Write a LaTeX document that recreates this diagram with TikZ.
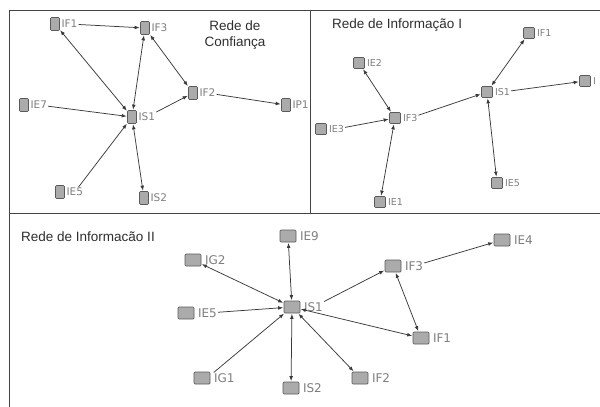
\documentclass[tikz,border=0pt]{standalone}
\usepackage{fontspec}
\setmainfont{Liberation Sans}
\newfontfamily\lblfont{DejaVu Sans}
\usetikzlibrary{arrows.meta}
\definecolor{frame}{HTML}{444444}
\definecolor{boxfill}{HTML}{ABABAB}
\definecolor{boxline}{HTML}{5A5A5A}
\definecolor{lblcol}{HTML}{7E7E7E}
\definecolor{edgecol}{HTML}{3A3A3A}
\definecolor{titlecol}{HTML}{2E2E2E}
\tikzset{
  nbox/.style={draw=boxline, fill=boxfill, line width=0.7pt, rounded corners=1pt, inner sep=0pt},
  boxA/.style={nbox, minimum width=9pt, minimum height=13pt},
  boxB/.style={nbox, minimum width=11pt, minimum height=11pt},
  boxC/.style={nbox, minimum width=16pt, minimum height=12pt},
  lblA/.style={text=lblcol, font=\lblfont\fontsize{10.5}{10.5}\selectfont, inner sep=0.5pt, label distance=1pt},
  lblB/.style={text=lblcol, font=\lblfont\fontsize{9.5}{9.5}\selectfont, inner sep=0.5pt, label distance=1.5pt},
  lblC/.style={text=lblcol, font=\lblfont\fontsize{12}{12}\selectfont, inner sep=0.5pt, label distance=3pt},
  title/.style={text=titlecol, font=\fontsize{13.5}{16}\selectfont, inner sep=0pt},
  edge/.style={draw=edgecol, line width=0.75pt, -{Latex[length=5pt,width=3.8pt]}, shorten <=0.5pt, shorten >=0.5pt},
  bi/.style={edge, {Latex[length=5pt,width=3.8pt]}-{Latex[length=5pt,width=3.8pt]}},
  framel/.style={draw=frame, line width=0.9pt}
}
\begin{document}
\begin{tikzpicture}[x=1pt,y=-1pt]
\useasboundingbox (0,0) rectangle (600,407);
\clip (0,0) rectangle (600,407);
% frame
\draw[framel] (9,407) -- (9,10) -- (600,10);
\draw[framel] (9,213) -- (600,213);
\draw[framel] (310,10) -- (310,213);

% ---------- Rede de Confianca ----------
\node[title, align=center] (t1) at (235,35) {Rede de\\Confiança};
\node[boxA, label={[lblA, name=aIF1l]right:IF1}] (aIF1) at (55,24) {};
\node[boxA, label={[lblA, name=aIF3l]right:IF3}] (aIF3) at (145,28) {};
\node[boxA, label={[lblA, name=aIF2l]right:IF2}] (aIF2) at (193,93) {};
\node[boxA, label={[lblA, name=aIP1l]right:IP1}] (aIP1) at (286,105) {};
\node[boxA, label={[lblA, name=aIE7l]right:IE7}] (aIE7) at (24,105) {};
\node[boxA, label={[lblA, name=aIS1l]right:IS1}] (aIS1) at (132,117) {};
\node[boxA, label={[lblA, name=aIE5l]right:IE5}] (aIE5) at (60,192) {};
\node[boxA, label={[lblA, name=aIS2l]right:IS2}] (aIS2) at (144,198) {};
\draw[edge] (aIF1l) -- (aIF3);
\draw[bi] (aIF1) -- (aIS1);
\draw[bi] (aIS1) -- (aIF3);
\draw[bi] (aIF3) -- (aIF2);
\draw[edge] (aIS1l) -- (aIF2);
\draw[edge] (aIF2l) -- (aIP1);
\draw[edge] (aIE7l) -- (aIS1);
\draw[edge] (aIE5l) -- (aIS1);
\draw[bi] (aIS1) -- (aIS2);

% ---------- Rede de Informacao I ----------
\node[title, anchor=west] (t2) at (332,25) {Rede de Informação I};
\node[boxB, label={[lblB, name=bIF1l]right:IF1}] (bIF1) at (529,33) {};
\node[boxB, label={[lblB, name=bIE2l]right:IE2}] (bIE2) at (359,63) {};
\node[boxB, label={[lblB, name=bIS1l]right:IS1}] (bIS1) at (487,92) {};
\node[boxB, label={[lblB, name=bIXl]right:I}] (bIX) at (585,81) {};
\node[boxB, label={[lblB, name=bIF3l]right:IF3}] (bIF3) at (395,118) {};
\node[boxB, label={[lblB, name=bIE3l]right:IE3}] (bIE3) at (321,129) {};
\node[boxB, label={[lblB, name=bIE5l]right:IE5}] (bIE5) at (497,183) {};
\node[boxB, label={[lblB, name=bIE1l]right:IE1}] (bIE1) at (380,202) {};
\draw[bi] (bIE2) -- (bIF3);
\draw[edge] (bIE3l) -- (bIF3);
\draw[bi] (bIF3) -- (bIE1);
\draw[edge] (bIF3l) -- (bIS1);
\draw[bi] (bIS1) -- (bIF1);
\draw[edge] (bIS1l) -- (bIX);
\draw[bi] (bIS1) -- (bIE5);

% ---------- Rede de Informacao II ----------
\node[title, anchor=west] (t3) at (21,237) {Rede de Informacão II};
\node[boxC, label={[lblC, name=cIE9l]right:IE9}] (cIE9) at (288,236) {};
\node[boxC, label={[lblC, name=cIG2l]right:IG2}] (cIG2) at (193,260) {};
\node[boxC, label={[lblC, name=cIE4l]right:IE4}] (cIE4) at (502,240) {};
\node[boxC, label={[lblC, name=cIF3l]right:IF3}] (cIF3) at (393,266) {};
\node[boxC, label={[lblC, name=cIE5l]right:IE5}] (cIE5) at (186,313) {};
\node[boxC, label={[lblC, name=cIS1l]right:IS1}] (cIS1) at (292,307) {};
\node[boxC, label={[lblC, name=cIF1l]right:IF1}] (cIF1) at (421,338) {};
\node[boxC, label={[lblC, name=cIG1l]right:IG1}] (cIG1) at (202,378) {};
\node[boxC, label={[lblC, name=cIS2l]right:IS2}] (cIS2) at (291,388) {};
\node[boxC, label={[lblC, name=cIF2l]right:IF2}] (cIF2) at (360,378) {};
\draw[bi] (cIS1) -- (cIE9);
\draw[bi] (cIS1) -- (cIG2);
\draw[edge] (cIE5l) -- (cIS1);
\draw[edge] (cIG1l.north west) -- (cIS1);
\draw[bi] (cIS1) -- (cIS2);
\draw[bi] (cIS1) -- (cIF2);
\draw[bi] (cIS1) -- (cIF1);
\draw[edge] (cIS1l) -- (cIF3);
\draw[bi] (cIF3) -- (cIF1);
\draw[edge] (cIF3l) -- (cIE4);
\end{tikzpicture}
\end{document}
